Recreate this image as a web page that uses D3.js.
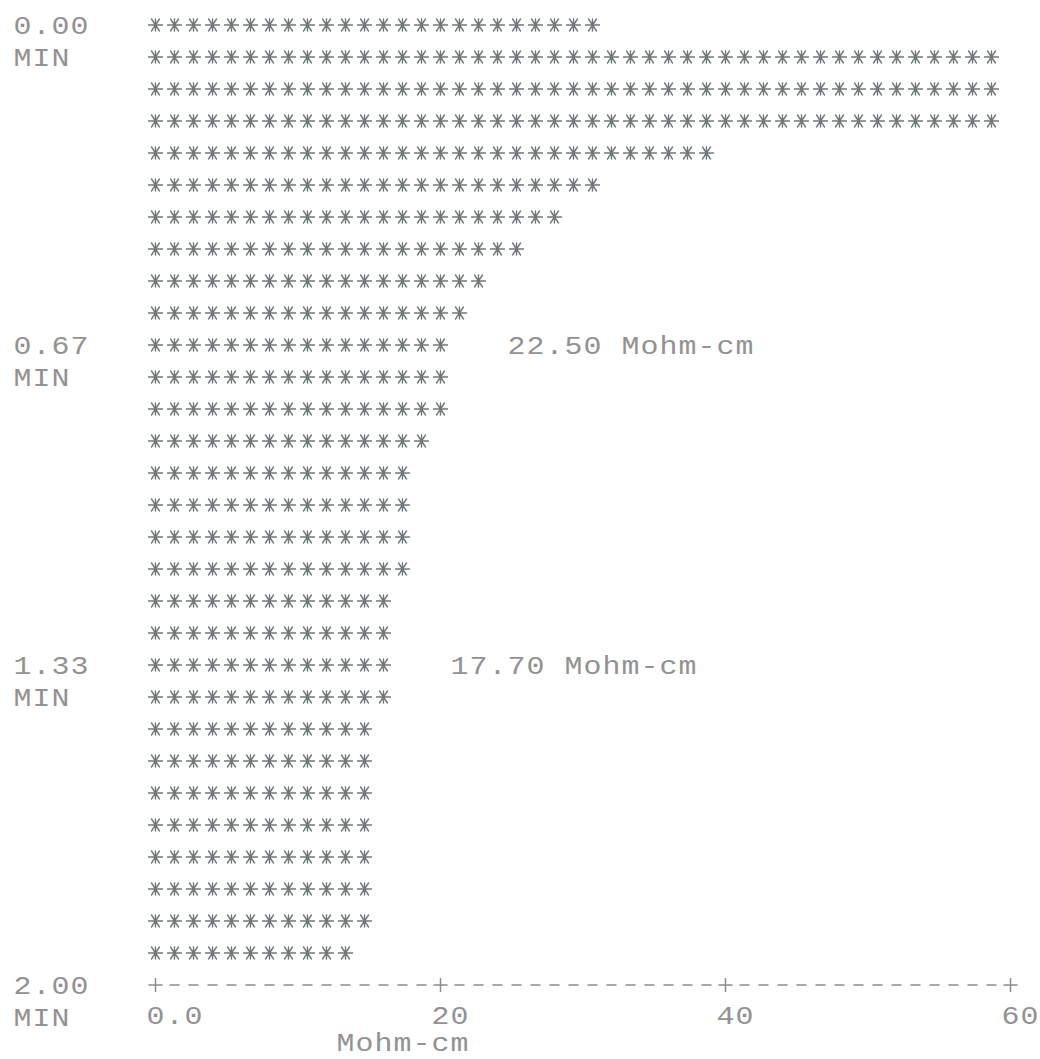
<!DOCTYPE html>
<html>
<head>
<meta charset="utf-8">
<script src="https://cdn.jsdelivr.net/npm/d3@7"></script>
<style>
  body { margin: 0; background: #fff; }
  svg { display: block; }
</style>
</head>
<body>
<svg id="chart" width="1040" height="1059"></svg>
<script>
// resistivity for each printed row, Mohm-cm (one row every 4 s)
var resistivity = [32.5, 60.0, 60.0, 60.0, 40.5, 32.5, 29.6, 27.0, 24.4, 23.2,
                   22.5, 22.1, 21.8, 20.5, 19.6, 19.3, 19.0, 18.8, 18.1, 17.9,
                   17.7, 17.5, 16.9, 16.7, 16.6, 16.5, 16.4, 16.3, 16.2, 15.6]
var timeTicks = [0, 0.67, 1.33, 2.00]          // minutes
var timeTickLabels = ["0.00", "0.67", "1.33", "2.00"]
var valueTicks = [0, 20, 40, 60]              // Mohm-cm
var valueTickLabels = ["0.0", "20", "40", "60"]
var annotatedRows = [10, 20]
var unitLabel = "Mohm-cm"

var BAR_COL = 7      // first column of the bars
var svg = d3.select("#chart")

// printout grid: columns and lines
var colX = d3.scaleLinear().domain([0, 54]).range([22.5, 22.5 + 19 * 54])
var rowY = d3.scaleLinear().domain([0, 30]).range([25, 985])
var timeRow = d3.scaleLinear().domain([0, 2]).range([0, 30])
var starCount = d3.scaleLinear().domain([0, 60]).range([0, 45])

var textLayer = svg.append("g")
    .attr("font-family", "'Liberation Mono', 'DejaVu Sans Mono', monospace")
    .attr("font-size", 26)
    .attr("fill", "#929292")

function putText(str, col, row, shift) {
    str.split("").forEach(function (ch, i) {
        if (ch == " ") return
        var x = colX(col + i), y = rowY(row) + 9 + (shift || 0)
        textLayer.append("text")
            .attr("transform", "translate(" + x + "," + y + ") scale(1.15,1)")
            .attr("text-anchor", "middle")
            .text(ch)
    })
}

// time labels on the left
timeTicks.forEach(function (t, i) {
    var r = Math.round(timeRow(t))
    putText(timeTickLabels[i], 0, r)
    putText("MIN", 0, r + 1)
})

// bars of asterisks
var stars = []
resistivity.forEach(function (v, i) {
    var n = Math.floor(starCount(v) + 1e-9)
    for (var k = 0; k < n; k++) stars.push({ row: i, col: BAR_COL + k })
})

svg.append("g")
    .attr("stroke", "#72777c")
    .attr("stroke-width", 1.4)
    .attr("stroke-linecap", "round")
    .attr("fill", "none")
    .selectAll("path")
    .data(stars)
    .enter()
    .append("path")
    .attr("transform", d => "translate(" + colX(d.col) + "," + rowY(d.row) + ")")
    .attr("d", "M-7,0H7M-4,-6L4,6M4,-6L-4,6M0,-6V6")

// value annotations
annotatedRows.forEach(function (r) {
    var n = Math.floor(starCount(resistivity[r]) + 1e-9)
    putText(d3.format(".2f")(resistivity[r]) + " " + unitLabel, BAR_COL + n + 3, r)
})

// bottom axis: dashes with + at the ticks
var axisRow = timeRow(2)
var tickCols = valueTicks.map(v => BAR_COL + starCount(v))
var axisCols = d3.range(BAR_COL, BAR_COL + starCount(60) + 1)

var axis = svg.append("g")
    .attr("stroke", "#8a8e92")
    .attr("stroke-width", 1.5)

axis.selectAll("path")
    .data(axisCols)
    .enter()
    .append("path")
    .attr("transform", c => "translate(" + colX(c) + "," + rowY(axisRow) + ")")
    .attr("d", c => tickCols.indexOf(c) >= 0 ? "M-7,0H7M0,-7V7" : "M-5,0H5")

valueTicks.forEach(function (v, i) {
    putText(valueTickLabels[i], BAR_COL + starCount(v), axisRow + 1, -2)
})
putText(unitLabel, 17, axisRow + 2, -7)
</script>
</body>
</html>
